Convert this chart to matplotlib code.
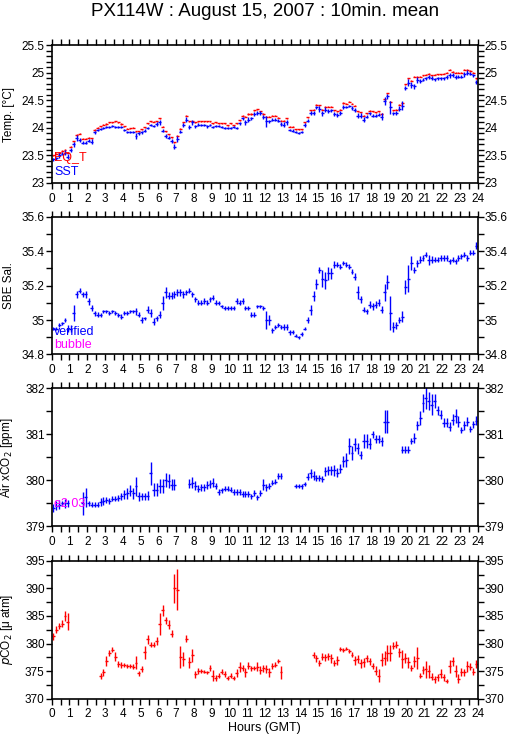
import matplotlib
matplotlib.use("Agg")
import matplotlib.pyplot as plt
import numpy as np
from matplotlib.ticker import FormatStrFormatter, MultipleLocator

plt.rcParams["font.family"] = ["Liberation Sans", "DejaVu Sans"]

TITLE = "PX114W : August 15, 2007 : 10min. mean"
HOURS = list(range(25))

# 10-minute means, one row per hour (6 values each), nan = no data
sst = [
	23.43, 23.45, 23.50, 23.53, 23.55, 23.48,
	23.60, 23.70, 23.82, 23.78, 23.73, 23.73,
	23.77, 23.75, 23.92, 23.96, 23.98, 24.00,
	24.01, 24.02, 24.04, 24.02, 24.02, 24.02,
	23.96, 23.93, 23.92, 23.93, 23.85, 23.90,
	23.92, 23.95, 24.00, 24.05, 24.03, 24.07,
	24.10, 23.95, 23.85, 23.82, 23.76, 23.66,
	23.80, 23.93, 24.05, 24.15, 24.02, 24.10,
	24.03, 24.06, 24.05, 24.05, 24.03, 24.05,
	24.01, 24.03, 24.03, 24.02, 24.00, 24.00,
	24.00, 24.01, 24.00, 24.08, 24.17, 24.10,
	24.15, 24.17, 24.25, 24.27, 24.27, 24.20,
	24.12, 24.12, 24.15, 24.15, 24.13, 24.07,
	24.06, 24.10, 23.96, 23.95, 23.92, 23.91,
	23.92, 24.05, 24.13, 24.27, 24.27, 24.37,
	24.34, 24.26, 24.33, 24.30, 24.32, 24.25,
	24.23, 24.27, 24.38, 24.38, 24.40, 24.36,
	24.32, 24.22, 24.22, 24.15, 24.20, 24.26,
	24.22, 24.22, 24.24, 24.20, 24.48, 24.57,
	24.37, 24.26, 24.27, 24.35, 24.40, 24.72,
	24.82, 24.78, 24.75, 24.87, 24.85, 24.87,
	24.90, 24.92, 24.90, 24.88, 24.90, 24.90,
	24.90, 24.92, 24.95, 24.96, 24.92, 24.93,
	24.93, 24.97, 25.00, 24.98, 24.95, 24.83,
]
sst_err = [
	.03, .03, .04, .03, .04, .04,
	.04, .04, .05, .04, .03, .03,
	.03, .04, .03, .02, .02, .02,
	.02, .02, .02, .02, .02, .02,
	.02, .02, .02, .02, .05, .03,
	.03, .03, .02, .02, .02, .03,
	.04, .03, .03, .03, .03, .05,
	.06, .03, .03, .04, .04, .05,
	.03, .02, .02, .02, .03, .02,
	.02, .02, .02, .02, .02, .02,
	.02, .02, .02, .03, .03, .05,
	.04, .03, .03, .04, .04, .04,
	.10, .03, .03, .03, .03, .03,
	.04, .04, .02, .02, .02, .02,
	.02, .03, .03, .03, .03, .03,
	.05, .04, .04, .04, .03, .03,
	.03, .03, .03, .02, .02, .03,
	.04, .04, .04, .04, .03, .03,
	.03, .03, .03, .06, .07, .05,
	.12, .03, .03, .04, .08, .04,
	.07, .05, .04, .05, .04, .03,
	.03, .03, .04, .03, .03, .03,
	.03, .03, .04, .03, .03, .03,
	.03, .04, .04, .03, .03, .04,
]
eq_t = [
	23.50, 23.53, 23.55, 23.58, 23.60, 23.55,
	23.66, 23.76, 23.87, 23.89, 23.80, 23.80,
	23.82, 23.81, 23.96, 24.00, 24.03, 24.06,
	24.07, 24.10, 24.10, 24.12, 24.10, 24.07,
	24.03, 23.98, 23.99, 24.00, 23.94, 23.94,
	23.97, 24.01, 24.08, 24.12, 24.11, 24.12,
	24.17, 24.02, 23.94, 23.88, 23.83, 23.74,
	23.86, 23.98, 24.10, 24.22, 24.12, 24.12,
	24.10, 24.12, 24.12, 24.12, 24.12, 24.12,
	24.08, 24.10, 24.08, 24.08, 24.08, 24.05,
	24.08, 24.05, 24.08, 24.14, 24.22, 24.20,
	24.25, 24.25, 24.32, 24.34, 24.30, 24.25,
	24.20, 24.20, 24.22, 24.22, 24.18, 24.13,
	24.13, 24.17, 24.02, 24.02, 23.97, 23.97,
	23.97, 24.10, 24.19, 24.32, 24.33, 24.42,
	24.41, 24.33, 24.38, 24.38, 24.38, 24.32,
	24.30, 24.33, 24.45, 24.44, 24.47, 24.44,
	24.40, 24.30, 24.28, 24.22, 24.26, 24.31,
	24.30, 24.28, 24.30, 24.25, 24.52, 24.63,
	24.47, 24.32, 24.33, 24.42, 24.45, 24.79,
	24.90, 24.85, 24.93, 24.93, 24.93, 24.95,
	24.96, 24.98, 24.95, 24.96, 24.97, 24.97,
	24.98, 25.00, 25.05, 25.02, 25.00, 25.00,
	25.00, 25.05, 25.05, 25.03, 25.00, 24.90,
]
eq_t_err = 0.01

sal = [
	34.95, 34.95, 34.97, 34.98, 35.00, 34.95,
	34.95, 35.04, 35.15, 35.17, 35.15, 35.15,
	35.11, 35.07, 35.04, 35.03, 35.03, 35.05,
	35.05, 35.04, 35.05, 35.04, 35.03, 35.02,
	35.04, 35.04, 35.05, 35.05, 35.05, 35.03,
	35.00, 35.01, 35.06, 35.04, 34.99, 35.01,
	35.03, 35.10, 35.16, 35.14, 35.14, 35.15,
	35.16, 35.16, 35.15, 35.16, 35.17, 35.15,
	35.12, 35.10, 35.10, 35.11, 35.10, 35.12,
	35.13, 35.10, 35.10, 35.08, 35.07, 35.07,
	35.07, 35.07, 35.11, 35.10, 35.11, 35.07,
	35.07, 35.03, 35.03, 35.08, 35.08, 35.07,
	35.00, 35.00, 34.94, 34.96, 34.97, 34.96,
	34.96, 34.96, 34.93, 34.93, 34.91, 34.90,
	34.92, 34.95, 35.00, 35.06, 35.14, 35.21,
	35.29, 35.24, 35.23, 35.27, 35.27, 35.32,
	35.32, 35.31, 35.33, 35.32, 35.31, 35.28,
	35.25, 35.16, 35.12, 35.06, 35.05, 35.09,
	35.08, 35.09, 35.10, 35.06, 35.16, 35.22,
	35.04, 34.96, 34.97, 35.00, 35.02, 35.19,
	35.24, 35.33, 35.29, 35.33, 35.35, 35.36,
	35.38, 35.35, 35.35, 35.35, 35.35, 35.36,
	35.36, 35.36, 35.34, 35.35, 35.34, 35.36,
	35.37, 35.38, 35.36, 35.39, 35.39, 35.43,
]
sal_err = [
	.010, .010, .010, .010, .010, .020,
	.020, .045, .020, .015, .015, .020,
	.020, .020, .015, .015, .010, .010,
	.010, .010, .010, .010, .010, .015,
	.010, .010, .010, .010, .020, .015,
	.015, .010, .020, .025, .020, .015,
	.020, .040, .030, .020, .020, .020,
	.020, .020, .020, .015, .015, .015,
	.015, .015, .015, .015, .015, .015,
	.015, .015, .010, .010, .010, .010,
	.010, .010, .015, .015, .015, .010,
	.010, .015, .015, .010, .010, .010,
	.050, .030, .015, .010, .010, .010,
	.015, .015, .015, .010, .010, .010,
	.010, .010, .015, .030, .030, .030,
	.020, .050, .050, .040, .030, .020,
	.015, .015, .010, .015, .015, .015,
	.020, .040, .020, .015, .015, .020,
	.020, .020, .020, .020, .050, .040,
	.100, .030, .020, .020, .030, .040,
	.080, .040, .020, .020, .020, .015,
	.015, .030, .020, .015, .015, .015,
	.015, .015, .015, .015, .015, .015,
	.015, .015, .015, .015, .015, .020,
]

nan = np.nan
xco2 = [
	379.40, 379.45, 379.47, 379.50, 379.50, 379.50,
	nan, nan, nan, nan, 379.50, 379.63,
	379.50, 379.47, 379.47, 379.47, 379.53, 379.55,
	379.57, 379.55, 379.60, 379.60, 379.62, 379.65,
	379.70, 379.72, 379.77, 379.72, 379.87, 379.65,
	379.65, 379.65, 379.67, 380.15, 379.80, 379.80,
	379.87, 379.87, 380.00, 379.98, 379.90, 379.90,
	nan, nan, nan, nan, 379.93, 379.95,
	379.88, 379.82, 379.85, 379.85, 379.90, 379.92,
	379.95, 379.88, 379.75, 379.78, 379.82, 379.82,
	379.80, 379.75, 379.75, 379.75, 379.70, 379.70,
	379.70, 379.65, 379.72, 379.63, 379.72, 379.90,
	379.85, 379.88, 379.95, 379.97, 380.10, 380.10,
	nan, nan, nan, nan, 379.88, 379.88,
	379.87, 379.92, 380.08, 380.15, 380.10, 380.05,
	380.05, 380.03, 380.20, 380.22, 380.22, 380.22,
	380.17, 380.25, 380.42, 380.45, 380.75, 380.60,
	380.78, 380.70, 380.55, 380.85, 380.85, 380.80,
	381.00, 380.90, 380.90, 380.85, 381.28, 381.28,
	nan, nan, nan, nan, 380.67, 380.67,
	380.67, 380.85, 380.92, 381.20, 381.35, 381.68,
	381.80, 381.72, 381.65, 381.72, 381.52, 381.43,
	381.25, 381.25, 381.17, 381.32, 381.40, 381.28,
	381.10, 381.20, 381.28, 381.12, 381.22, 381.30,
]
xco2_err = [
	.08, .10, .10, .06, .10, .08,
	0, 0, 0, 0, .25, .20,
	.06, .06, .06, .06, .08, .08,
	.06, .06, .06, .06, .06, .08,
	.10, .12, .12, .12, .20, .10,
	.08, .08, .10, .25, .15, .15,
	.15, .15, .15, .15, .12, .12,
	0, 0, 0, 0, .10, .12,
	.10, .08, .08, .08, .08, .08,
	.10, .06, .06, .06, .06, .06,
	.06, .06, .06, .06, .06, .06,
	.06, .06, .06, .06, .06, .12,
	.08, .06, .06, .06, .06, .06,
	0, 0, 0, 0, .05, .05,
	.05, .05, .08, .10, .10, .06,
	.06, .06, .10, .10, .10, .12,
	.10, .10, .12, .15, .18, .15,
	.15, .12, .08, .15, .15, .12,
	.08, .08, .08, .10, .25, .25,
	0, 0, 0, 0, .07, .07,
	.07, .07, .10, .10, .15, .20,
	.25, .20, .22, .15, .10, .10,
	.10, .10, .10, .12, .15, .12,
	.06, .10, .10, .06, .08, .10,
]

pco2 = [
	381.3, 382.5, 383.2, 383.6, 385.0, 384.0,
	nan, nan, nan, nan, nan, nan,
	nan, nan, nan, nan, 374.1, 374.8,
	376.9, 378.3, 378.9, 377.6, 376.3, 376.1,
	376.1, 375.9, 375.9, 375.8, 376.5, 374.6,
	375.4, 378.4, 380.8, 379.8, 379.8, 380.4,
	383.5, 386.0, 384.2, 383.4, 381.8, 390.0,
	389.8, 377.5, 377.2, 380.9, 376.6, 377.9,
	374.4, 375.0, 375.0, 374.9, 374.8, 375.6,
	374.2, 373.8, 374.2, 374.9, 374.5, 373.8,
	374.2, 373.8, 374.7, 375.7, 375.6, 374.8,
	376.0, 375.5, 375.6, 375.8, 375.2, 375.5,
	375.4, 374.8, 375.9, 376.2, 376.8, 374.8,
	nan, nan, nan, nan, nan, nan,
	nan, nan, nan, nan, 377.9, 377.3,
	376.5, 377.6, 377.5, 377.7, 377.3, 376.5,
	377.0, 379.0, 378.8, 379.1, 378.7, 378.0,
	377.0, 377.2, 376.4, 376.6, 377.3, 376.8,
	375.9, 375.1, 374.2, 377.1, 377.4, 378.3,
	378.3, 379.6, 379.8, 378.4, 377.2, 377.4,
	376.6, 375.6, 376.8, 377.4, 374.2, 375.2,
	375.3, 375.0, 374.0, 373.5, 373.9, 374.5,
	373.9, 373.2, 375.9, 376.8, 375.0, 373.6,
	374.9, 374.8, 375.9, 375.8, 374.9, 376.3,
]
pco2_err = [
	.6, .6, .6, .6, .9, 1.5,
	0, 0, 0, 0, 0, 0,
	0, 0, 0, 0, .5, .6,
	.9, .5, .5, .8, .6, .5,
	.4, .4, .4, .5, 1.2, .4,
	.6, 1.2, .8, .5, .5, .7,
	2.0, 1.0, .6, .8, .6, 2.6,
	3.8, 2.0, 1.2, .7, 1.0, 1.2,
	.7, .5, .4, .3, .3, .6,
	1.0, .5, .5, .4, .5, .4,
	.5, .4, .7, .9, .6, .8,
	.7, .4, .4, .8, .8, .7,
	.8, .8, .5, .5, .4, 1.2,
	0, 0, 0, 0, 0, 0,
	0, 0, 0, 0, .6, .7,
	.6, .6, .6, .6, .8, .6,
	.8, .4, .4, .3, .4, .4,
	.8, .8, .8, .8, .6, .6,
	.6, .8, 1.2, 1.2, 1.2, 1.4,
	1.5, .6, .6, .8, 1.6, .9,
	1.0, .5, 1.0, 2.0, .5, .8,
	1.5, 1.2, .6, .6, .6, .8,
	.6, .4, 1.2, .8, 1.1, .8,
	.7, .6, 1.0, .6, .6, .8,
]

RED = "#ff0000"
BLUE = "#0000ff"
MAGENTA = "#ff00ff"

# bin centres of the 10 minute means
t = (np.arange(len(sst)) + 0.5) / 6.0


def bars(ax, y, yerr, color):
	y = np.asarray(y, dtype=float)
	yerr = np.broadcast_to(np.asarray(yerr, dtype=float), y.shape)
	ok = ~np.isnan(y)
	ax.errorbar(t[ok], y[ok], xerr=1 / 12, yerr=yerr[ok], fmt="none",
		ecolor=color, elinewidth=1.0, capsize=0)


def style(ax, lo, hi, major, minor, label):
	ax.set_xlim(0, 24)
	ax.set_ylim(lo, hi)
	ax.set_xticks(HOURS)
	ax.xaxis.set_minor_locator(MultipleLocator(0.5))
	ax.yaxis.set_major_locator(MultipleLocator(major))
	ax.yaxis.set_minor_locator(MultipleLocator(minor))
	ax.yaxis.set_major_formatter(FormatStrFormatter("%g"))
	ax.tick_params(which="both", direction="out", top=True, right=True,
		labelright=True, length=4, width=1, labelsize=8.5)
	ax.tick_params(axis="y", pad=1)
	ax.tick_params(axis="x", pad=3)
	for s in ax.spines.values():
		s.set_linewidth(1.2)
	ax.set_ylabel(label, fontsize=8.5)
	# label's right edge sits about 15 px from the figure edge
	ax.yaxis.set_label_coords(-0.085, 0.5)


fig = plt.figure(figsize=(5.15, 7.39), dpi=100)
left, width, height = 0.1004, 0.8272, 0.1866
bottoms = [0.7524, 0.5203, 0.2878, 0.0545]
axs = [fig.add_axes([left, b, width, height]) for b in bottoms]

ax = axs[0]
bars(ax, eq_t, eq_t_err, RED)
bars(ax, sst, sst_err, BLUE)
style(ax, 23, 25.5, 0.5, 0.1, "Temp. [°C]")
ax.text(0.006, 0.18, "EQ_T", color=RED, fontsize=9, transform=ax.transAxes, va="center")
ax.text(0.006, 0.08, "SST", color=BLUE, fontsize=9, transform=ax.transAxes, va="center")

ax = axs[1]
bars(ax, sal, sal_err, BLUE)
style(ax, 34.8, 35.6, 0.2, 0.1, "SBE Sal.")
ax.text(0.006, 0.165, "verified", color=BLUE, fontsize=9, transform=ax.transAxes, va="center")
ax.text(0.006, 0.07, "bubble", color=MAGENTA, fontsize=9, transform=ax.transAxes, va="center")

ax = axs[2]
ax.text(0.006, 0.16, "e2 03", color=MAGENTA, fontsize=9, transform=ax.transAxes, va="center")
bars(ax, xco2, xco2_err, BLUE)
style(ax, 379, 382, 1, 0.5, "Air xCO$_2$ [ppm]")

ax = axs[3]
bars(ax, pco2, pco2_err, RED)
style(ax, 370, 395, 5, 2.5, "$p$CO$_2$ [μ atm]")

fig.text(0.514, 0.984, TITLE, ha="center", va="center", fontsize=13.5)
fig.text(0.514, 0.015, "Hours (GMT)", ha="center", va="center", fontsize=9)

fig.savefig("out.png", dpi=100)
